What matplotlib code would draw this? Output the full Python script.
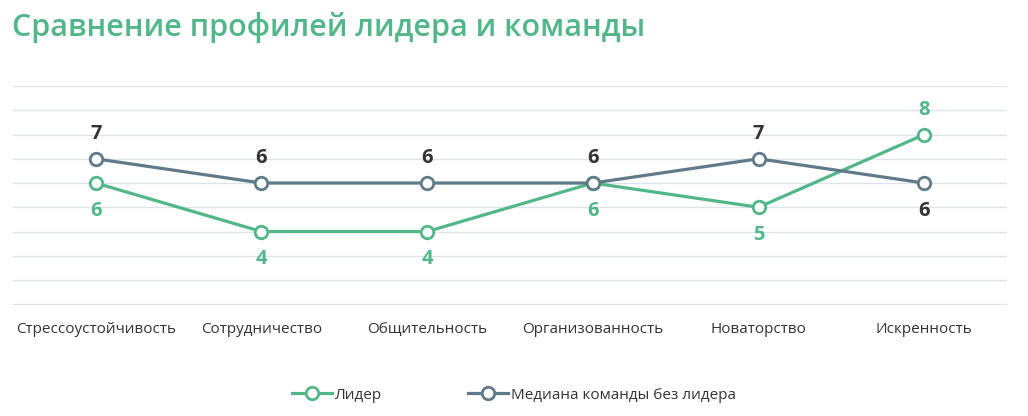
import matplotlib
matplotlib.use("Agg")
import matplotlib.pyplot as plt

plt.rcParams['font.family'] = ['Open Sans', 'DejaVu Sans']

# Данные
categories = ["Стрессоустойчивость", "Сотрудничество", "Общительность",
              "Организованность", "Новаторство", "Искренность"]
leader = [6, 4, 4, 6, 5, 8]
team = [7, 6, 6, 6, 7, 6]
series_names = ["Лидер", "Медиана команды без лидера"]

GREEN = "#52b788"
SLATE = "#5f7a89"
GRID = "#dde3e8"
TEXT = "#333333"

fig = plt.figure(figsize=(10.28, 4.16), dpi=100)
ax = fig.add_axes([0.0126, 0.2668, 0.9670, 0.5264])

x = list(range(len(categories)))
l1, = ax.plot(x, leader, color=GREEN, lw=2.3, marker="o", ms=9,
              mfc="white", mec=GREEN, mew=2.0, zorder=3, label=series_names[0])
l2, = ax.plot(x, team, color=SLATE, lw=2.3, marker="o", ms=9,
              mfc="white", mec=SLATE, mew=2.0, zorder=4, label=series_names[1])

# подписи значений
for i in x:
    lv, tv = leader[i], team[i]
    team_up = tv >= lv
    ax.annotate(str(tv), (i, tv), xytext=(0, 18 if team_up else -20),
                textcoords="offset points", ha="center", va="center",
                fontsize=14.5, fontweight="bold", color=TEXT)
    ax.annotate(str(lv), (i, lv), xytext=(0, 18 if lv > tv else -20),
                textcoords="offset points", ha="center", va="center",
                fontsize=14.5, fontweight="bold", color=GREEN)

ax.set_xlim(-0.5, len(categories) - 0.5)
ax.set_ylim(0.97, 10)
ax.set_yticks(range(1, 11))
ax.yaxis.grid(True, color=GRID, lw=1)
ax.set_axisbelow(True)
ax.tick_params(axis="y", left=False, labelleft=False)
ax.tick_params(axis="x", length=0, pad=12, labelsize=11, labelcolor=TEXT)
ax.set_xticks(x)
ax.set_xticklabels(categories)
for s in ax.spines.values():
    s.set_visible(False)

fig.text(0.0117, 0.935, "Сравнение профилей лидера и команды", fontsize=22,
         color=GREEN, fontweight="semibold", va="center", ha="left")

fig.legend(handles=[l1, l2], loc="center", bbox_to_anchor=(0.5, 0.05),
           ncol=2, frameon=False, fontsize=11, handlelength=2.6,
           handletextpad=0.2, columnspacing=5.6, labelcolor=TEXT)

fig.savefig("out.png", dpi=100, facecolor="white")
